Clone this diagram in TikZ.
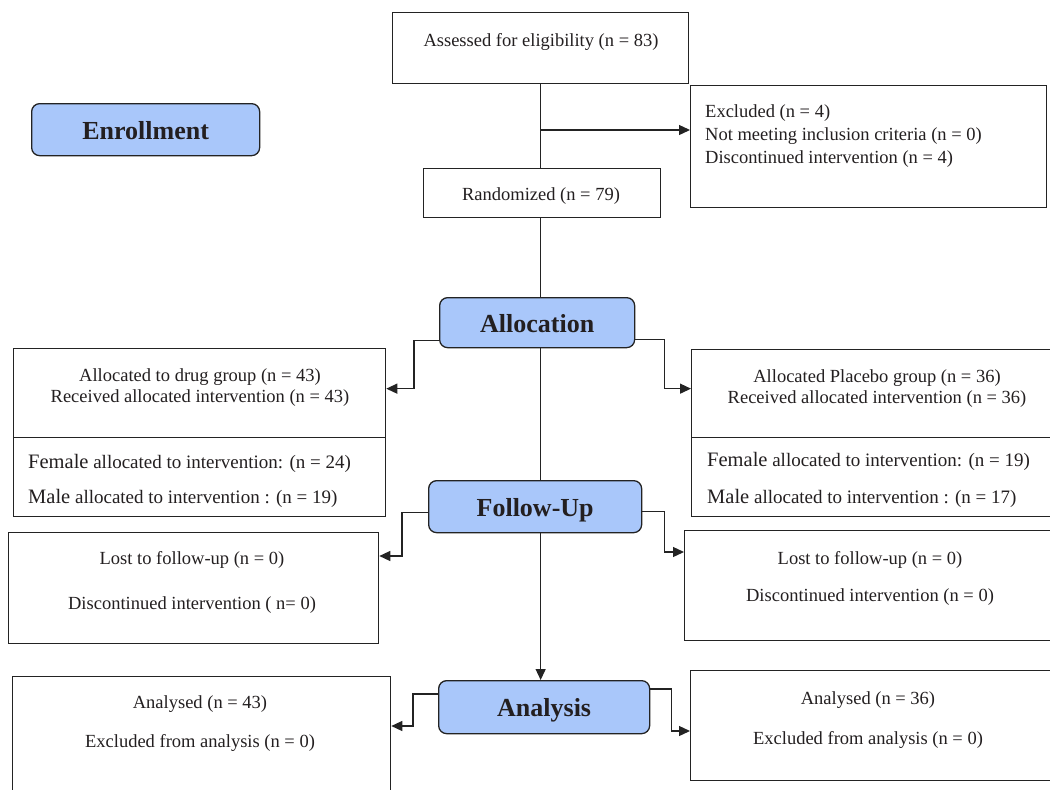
\documentclass[tikz,border=0pt]{standalone}
\usepackage{fontspec}
\setmainfont{Liberation Serif}
\usetikzlibrary{arrows.meta}
\definecolor{labfill}{RGB}{169,199,250}
\definecolor{ln}{RGB}{35,35,35}
\definecolor{tx}{RGB}{35,31,32}
\begin{document}
\begin{tikzpicture}[x=1pt,y=-1pt,
  box/.style={draw=ln, line width=1.3pt, anchor=north west, inner sep=0pt, fill=white},
  lab/.style={draw=ln, line width=1.3pt, fill=labfill, rounded corners=8pt, anchor=north west, inner sep=0pt, text=tx, font=\fontsize{26}{30}\selectfont\bfseries, text height=22pt, text depth=2.8pt},
  txt/.style={text=tx, font=\fontsize{18.5}{21}\selectfont, inner sep=0pt},
  con/.style={draw=ln, line width=1.3pt},
  arr/.style={con, -{Triangle[length=11pt,width=10pt]}}]
\useasboundingbox (0,0) rectangle (1050,790);
\clip (0,0) rectangle (1050,790);

% boxes
\node[box, minimum width=296pt, minimum height=71pt] (A) at (392,12) {};
\node[lab, minimum width=228pt, minimum height=52pt] (E) at (31,103) {Enrollment};
\node[box, minimum width=356pt, minimum height=122pt] (X) at (690,85) {};
\node[box, minimum width=237pt, minimum height=49pt] (R) at (423,168) {};
\node[lab, minimum width=195pt, minimum height=50pt] (L) at (439,297) {Allocation};
\node[box, minimum width=372pt, minimum height=89pt] (D1) at (13,348) {};
\node[box, minimum width=372pt, minimum height=79pt] (D2) at (13,437) {};
\node[box, minimum width=379pt, minimum height=88pt] (P1) at (691,349) {};
\node[box, minimum width=379pt, minimum height=79pt] (P2) at (691,437) {};
\node[lab, minimum width=213pt, minimum height=52pt] (F) at (428,480) {Follow-Up};
\node[box, minimum width=370pt, minimum height=111pt] (FL) at (8,532) {};
\node[box, minimum width=386pt, minimum height=110pt] (FR) at (684,530) {};
\node[lab, minimum width=211pt, minimum height=53pt] (N) at (438,680) {Analysis};
\node[box, minimum width=378pt, minimum height=130pt] (NL) at (12,676) {};
\node[box, minimum width=380pt, minimum height=110pt] (NR) at (690,670) {};

% texts
\node[txt] (tA) at (541,42) {Assessed for eligibility (n = 83)};
\node[txt, anchor=west, align=left, font=\fontsize{18.5}{23}\selectfont] (tX) at (705,136)
  {Excluded (n = 4)\\Not meeting inclusion criteria (n = 0)\\Discontinued intervention (n = 4)};
\node[txt] (tR) at (541,196) {Randomized (n = 79)};
\node[txt, align=center] (tD1) at (200,387.5)
  {Allocated to drug group (n = 43)\\Received allocated intervention (n = 43)};
\node[txt, anchor=west, align=left, font=\fontsize{19}{35}\selectfont] (tD2) at (28,481)
  {{\fontsize{20.5}{35}\selectfont Female} allocated to intervention: (n = 24)\\{\fontsize{20.5}{35}\selectfont Male} allocated to intervention : (n = 19)};
\node[txt, align=center] (tP1) at (877,388.5)
  {Allocated Placebo group (n = 36)\\Received allocated intervention (n = 36)};
\node[txt, anchor=west, align=left, font=\fontsize{19}{37}\selectfont] (tP2) at (707,480)
  {{\fontsize{20.5}{37}\selectfont Female} allocated to intervention: (n = 19)\\{\fontsize{20.5}{37}\selectfont Male} allocated to intervention : (n = 17)};
\node[txt, align=center, font=\fontsize{18.5}{45}\selectfont] (tFL) at (192,582.5)
  {Lost to follow-up (n = 0)\\Discontinued intervention ( n= 0)};
\node[txt, align=center, font=\fontsize{18.5}{37}\selectfont] (tFR) at (870,578.5)
  {Lost to follow-up (n = 0)\\Discontinued intervention (n = 0)};
\node[txt, align=center, font=\fontsize{18.5}{38.5}\selectfont] (tNL) at (200,723.5)
  {Analysed (n = 43)\\Excluded from analysis (n = 0)};
\node[txt, align=center, font=\fontsize{18.5}{40}\selectfont] (tNR) at (868,720)
  {Analysed (n = 36)\\Excluded from analysis (n = 0)};

% connectors
\coordinate (j1) at (541,130);
\draw[con] (A.south) -- (A.south |- R.north);
\draw[arr] (j1) -- (j1 -| X.west);
\draw[con] (R.south -| A.south) -- (L.north -| A.south);
\draw[con] (L.south -| A.south) -- (F.north -| A.south);
\draw[arr] (F.south -| A.south) -- (N.north -| A.south);
\draw[arr] ([yshift=8pt]L.south west) -- ++(-25,0) |- ([yshift=4.5pt]D1.east);
\draw[arr] ([yshift=9pt]L.south east) -- ++(29,0) |- ([yshift=5pt]P1.west);
\draw[arr] ([yshift=21pt]F.south west) -- ++(-26,0) |- ([yshift=-24pt]FL.north east);
\draw[arr] ([yshift=22pt]F.south east) -- ++(22,0) |- ([yshift=-22pt]FR.north west);
\draw[arr] ([yshift=-14pt]N.north west) -- ++(-25,0) |- ([yshift=-50pt]NL.north east);
\draw[arr] ([yshift=-9pt]N.north east) -- ++(21,0) |- ([yshift=-61pt]NR.north west);
\end{tikzpicture}
\end{document}
